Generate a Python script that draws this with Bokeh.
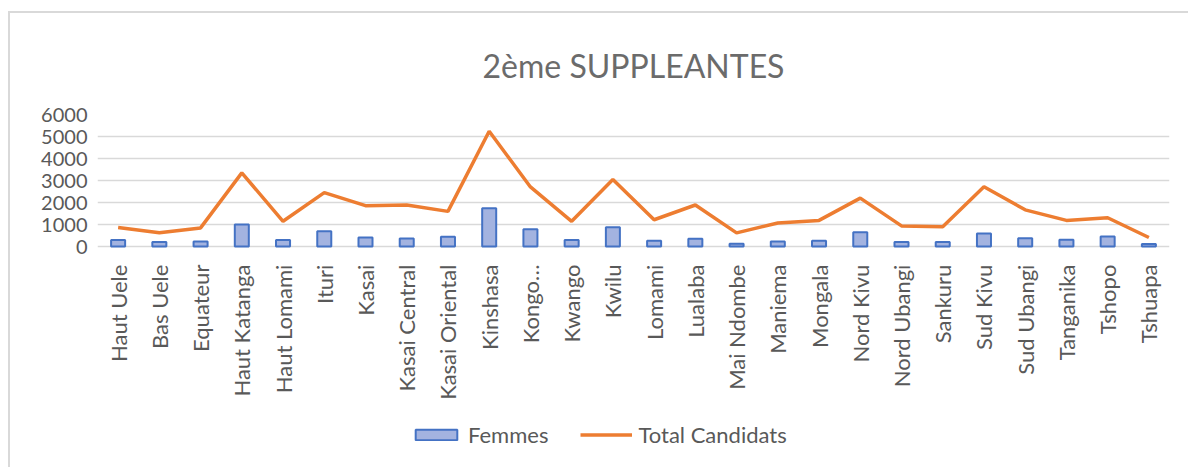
import math
from bokeh.plotting import figure
from bokeh.models import ColumnDataSource, Legend, LegendItem, FactorRange, FixedTicker, LabelSet
from bokeh.core.properties import value
from bokeh.embed import file_html
from bokeh.resources import INLINE

provinces = ["Haut Uele", "Bas Uele", "Equateur", "Haut Katanga", "Haut Lomami", "Ituri", "Kasai",
             "Kasai Central", "Kasai Oriental", "Kinshasa", "Kongo…", "Kwango", "Kwilu", "Lomami",
             "Lualaba", "Mai Ndombe", "Maniema", "Mongala", "Nord Kivu", "Nord Ubangi", "Sankuru",
             "Sud Kivu", "Sud Ubangi", "Tanganika", "Tshopo", "Tshuapa"]
femmes = [295, 205, 235, 1000, 295, 700, 415, 370, 445, 1740, 790, 295, 880, 265, 355, 135,
          235, 265, 655, 205, 205, 590, 385, 310, 460, 115]
total = [870, 625, 850, 3350, 1150, 2450, 1860, 1890, 1600, 5240, 2710, 1150, 3050, 1220, 1890,
         625, 1070, 1190, 2200, 940, 905, 2720, 1670, 1190, 1310, 415]
y_ticks = [0, 1000, 2000, 3000, 4000, 5000, 6000]

FONT = "Lato"
GREY = "#595959"

# layout (pixels)
W, H = 1180, 456
FRAME_TOP, FRAME_LEFT, FRAME_RIGHT_PAD, FRAME_BOTTOM_PAD = 96, 87, 21, 7
AXIS_PX = 134          # pixel height of the 0..6000 band
frame_h = H - FRAME_TOP - FRAME_BOTTOM_PAD
y_max = y_ticks[-1]
y_min = -y_max * (frame_h - AXIS_PX) / AXIS_PX

src = ColumnDataSource(dict(x=provinces, f=femmes, t=total, zero=[0] * len(provinces)))

p = figure(x_range=FactorRange(*provinces, range_padding=0), y_range=(y_min, y_max),
           width=W, height=H, output_backend="svg", toolbar_location=None,
           min_border_left=FRAME_LEFT, min_border_right=FRAME_RIGHT_PAD,
           min_border_top=FRAME_TOP, min_border_bottom=FRAME_BOTTOM_PAD)
p.styles = {"margin-left": "8px", "margin-top": "11px",
            "border-left": "2px solid #d9d9d9", "border-top": "2px solid #d9d9d9"}

p.title.text = "2ème SUPPLEANTES"
p.title.align = "center"
p.title.text_font = FONT
p.title.text_font_size = "32px"
p.title.text_font_style = "normal"
p.title.text_color = "#6b6b6b"
p.title.offset = 0
p.title.standoff = 60

bars = p.vbar(x="x", top="f", width=0.34, source=src, fill_color="#a3b3e0",
              line_color="#4472c4", line_width=2)
line = p.line(x="x", y="t", source=src, line_color="#ed7d31", line_width=3.5)

p.outline_line_color = None
p.xgrid.grid_line_color = None
p.ygrid.grid_line_color = "#d9d9d9"
p.ygrid.grid_line_width = 1.5
p.yaxis.ticker = FixedTicker(ticks=y_ticks)
p.yaxis.axis_line_color = None
p.yaxis.major_tick_line_color = None
p.yaxis.minor_tick_line_color = None
p.yaxis.major_label_text_font = FONT
p.yaxis.major_label_text_font_size = "20px"
p.yaxis.major_label_text_color = GREY
p.yaxis.major_label_standoff = 4
p.xaxis.visible = False

labels = LabelSet(x="x", y="zero", text="x", source=src, angle=math.pi / 2,
                  y_offset=-18, text_align="right", text_baseline="middle",
                  text_font=value(FONT), text_font_size=value("22px"), text_color=value(GREY))
p.add_layout(labels)

legend = Legend(items=[LegendItem(label="Femmes", renderers=[bars]),
                       LegendItem(label="Total Candidats", renderers=[line])],
                orientation="horizontal", location=(313, 14),
                label_text_font=FONT, label_text_font_size="22px", label_text_color=GREY,
                border_line_color=None, background_fill_alpha=0, glyph_width=52, glyph_height=13,
                spacing=32, label_standoff=6, margin=0, padding=6)
p.add_layout(legend, "center")

open("out.html", "w").write(file_html(p, INLINE))
